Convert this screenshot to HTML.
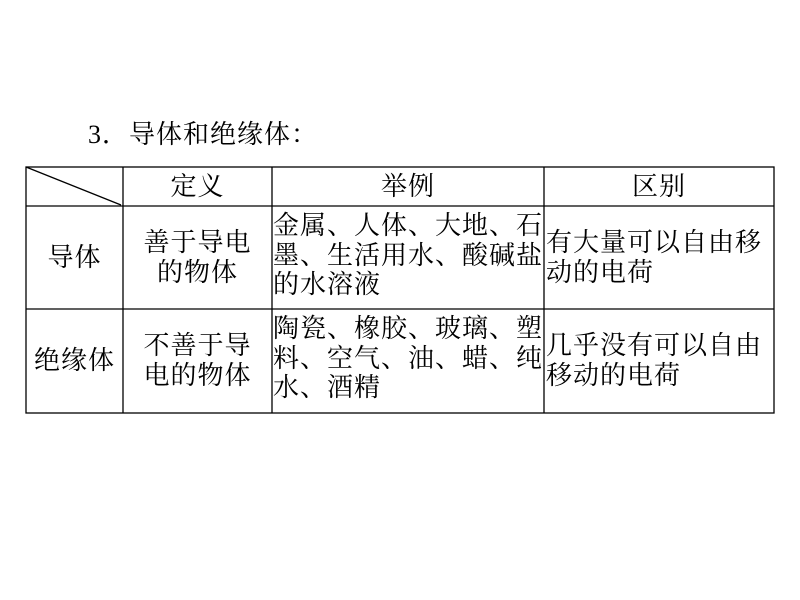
<!DOCTYPE html>
<html><head><meta charset="utf-8"><style>
body{margin:0;width:800px;height:600px;background:#fff;position:relative;font-family:"Liberation Serif","Noto Serif CJK SC","Noto Sans CJK SC",serif;color:#000;overflow:hidden}
.t{position:absolute;font-size:26px;letter-spacing:1px;line-height:29.5px;white-space:nowrap}
.c{text-align:center}
svg{position:absolute;left:0;top:0}
</style></head><body>
<svg width="800" height="600">
<g stroke="#000" stroke-width="1.3" fill="none">
<rect x="26" y="167" width="748" height="246"/>
<line x1="26" y1="206" x2="774" y2="206"/>
<line x1="26" y1="309" x2="774" y2="309"/>
<line x1="123" y1="167" x2="123" y2="413"/>
<line x1="272" y1="167" x2="272" y2="413"/>
<line x1="544" y1="167" x2="544" y2="413"/>
<line x1="26" y1="167" x2="121" y2="205"/>
</g></svg>
<div class="t" style="left:88px;top:120px">3．导体和绝缘体：</div>
<div class="t c" style="left:123px;width:149px;top:172px">定义</div>
<div class="t c" style="left:272px;width:272px;top:172px">举例</div>
<div class="t c" style="left:544px;width:230px;top:172px">区别</div>
<div class="t c" style="left:26px;width:97px;top:243px">导体</div>
<div class="t c" style="left:123px;width:149px;top:228px">善于导电<br>的物体</div>
<div class="t" style="left:273px;top:211px">金属、人体、大地、石<br>墨、生活用水、酸碱盐<br>的水溶液</div>
<div class="t" style="left:546px;top:228px">有大量可以自由移<br>动的电荷</div>
<div class="t c" style="left:26px;width:97px;top:346px">绝缘体</div>
<div class="t c" style="left:123px;width:149px;top:331px">不善于导<br>电的物体</div>
<div class="t" style="left:273px;top:314px">陶瓷、橡胶、玻璃、塑<br>料、空气、油、蜡、纯<br>水、酒精</div>
<div class="t" style="left:546px;top:331px">几乎没有可以自由<br>移动的电荷</div>
</body></html>
